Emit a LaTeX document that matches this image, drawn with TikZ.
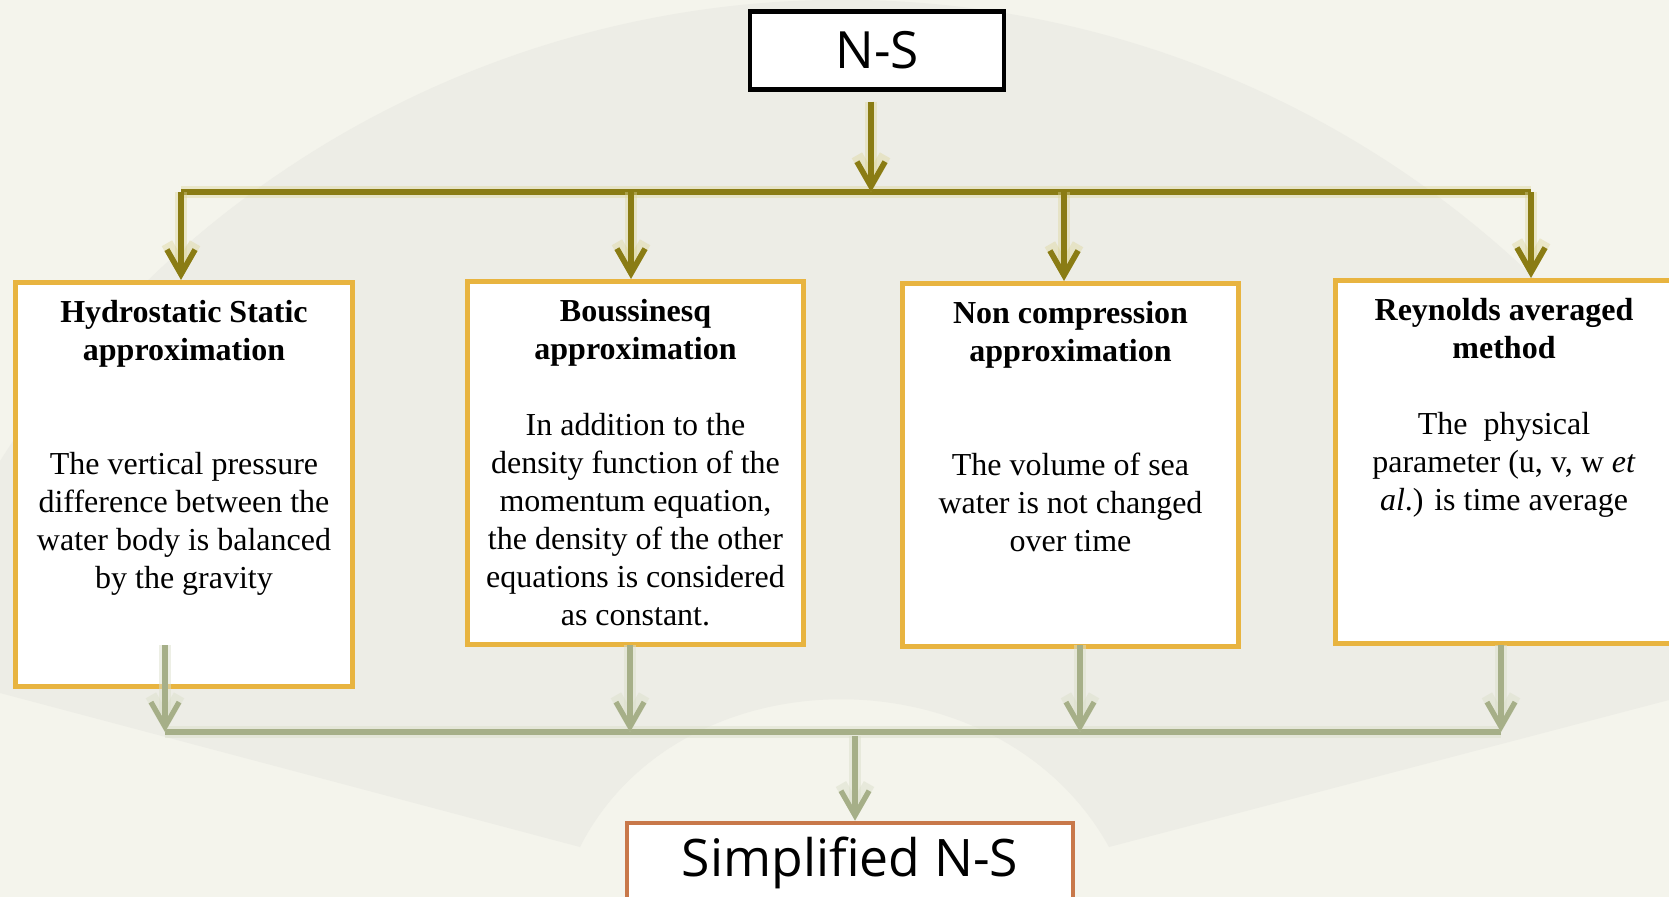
\documentclass[tikz,border=0pt]{standalone}
\usepackage{fontspec}
\setmainfont{Liberation Serif}
\newfontfamily\headfont{Open Sans}
\usetikzlibrary{arrows.meta,positioning}

\definecolor{paper}{RGB}{244,244,236}
\definecolor{fanshade}{RGB}{237,237,230}
\definecolor{olivearrow}{RGB}{138,124,20}
\definecolor{oliveglow}{RGB}{220,212,150}
\definecolor{sagearrow}{RGB}{166,175,136}
\definecolor{sageglow}{RGB}{220,224,204}
\definecolor{boxgold}{RGB}{232,180,64}
\definecolor{boxrust}{RGB}{200,120,74}

\begin{document}
\begin{tikzpicture}[x=0.01cm, y=-0.01cm,
    nsbox/.style={draw=black, line width=1.2pt, fill=white, minimum width=2.54cm, minimum height=0.78cm, font=\headfont\fontsize{14.6}{16}\selectfont},
    simbox/.style={draw=boxrust, line width=1.3pt, fill=white, minimum width=4.46cm, minimum height=0.8cm, font=\headfont\fontsize{14.7}{18}\selectfont},
    approx/.style={draw=boxgold, line width=1.4pt, fill=white, minimum width=3.36cm, minimum height=3.63cm, inner sep=0pt},
    approxtext/.style={anchor=north, align=center, inner sep=0pt, font=\fontsize{9.1}{10.8}\selectfont},
    oliveline/.style={draw=olivearrow, line width=1.6pt, preaction={draw=oliveglow, line width=3.4pt, opacity=0.4}},
    olivedown/.style={oliveline, -{Straight Barb[length=7pt,width=8pt]}},
    sageline/.style={draw=sagearrow, line width=1.5pt, preaction={draw=sageglow, line width=3.4pt, opacity=0.5}},
    sagedown/.style={sageline, -{Straight Barb[length=7pt,width=8pt]}}]

    % page and fan in the back
    \useasboundingbox (0,0) rectangle (1669,897);
    \fill[paper] (0,0) rectangle (1669,897);
    \fill[fanshade] (0,461) arc[start angle=212.6, end angle=325.8, radius=1000]
        -- (1669,700) -- (1109,847) .. controls (1000,650) and (680,650) .. (580,847) -- (0,693) -- cycle;

    % boxes
    \node[nsbox] (ns) at (877,50.5) {N-S};

    \node[approx, minimum height=4.04cm] (hs) at (184,484.5) {};
    \node[approx] (bs) at (635.5,463) {};
    \node[approx] (nc) at (1070.5,465) {};
    \node[approx] (ra) at (1504,462) {};

    \node[approxtext] (hstext) at ([yshift=-0.2cm]hs.north) {\textbf{Hydrostatic Static}\\\textbf{approximation}\\[21.6pt]
        The vertical pressure\\difference between the\\water body is balanced\\by the gravity};
    \node[approxtext] (bstext) at ([yshift=-0.2cm]bs.north) {\textbf{Boussinesq}\\\textbf{approximation}\\[10.8pt]
        In addition to the\\density function of the\\momentum equation,\\the density of the other\\equations is considered\\as constant.};
    \node[approxtext] (nctext) at ([yshift=-0.2cm]nc.north) {\textbf{Non compression}\\\textbf{approximation}\\[21.6pt]
        The volume of sea\\water is not changed\\over time};
    \node[approxtext] (ratext) at ([yshift=-0.2cm]ra.north) {\textbf{Reynolds averaged}\\\textbf{method}\\[10.8pt]
        The\ \ physical\\parameter (u, v, w \textit{et}\\\textit{al}.) is time average};

    \node[simbox] (sns) at (850,863) {Simplified N-S};

    % top split
    \coordinate (topl) at (181,192);
    \coordinate (topr) at (1531,192);
    \draw[oliveline] (topl) -- (topr);
    \draw[olivedown, shorten <=0.1cm] ([xshift=-0.06cm]ns.south) -- ([xshift=-0.06cm]ns.south |- topl);
    \draw[olivedown] ([xshift=-0.03cm]hs.north |- topl) -- ([xshift=-0.03cm]hs.north);
    \draw[olivedown] ([xshift=-0.045cm]bs.north |- topl) -- ([xshift=-0.045cm]bs.north);
    \draw[olivedown] ([xshift=-0.065cm]nc.north |- topl) -- ([xshift=-0.065cm]nc.north);
    \draw[olivedown] (topr) -- (topr |- ra.north);

    % bottom merge
    \coordinate (botrow) at (0,645);
    \coordinate (botl) at (165,732);
    \coordinate (botr) at (1501,732);
    \draw[sageline] (botl) -- (botr);
    \draw[sagedown] (botl |- botrow) -- (botl);
    \draw[sagedown] ([xshift=-0.055cm]bs.south |- botrow) -- ([xshift=-0.055cm]bs.south |- botl);
    \draw[sagedown] ([xshift=0.095cm]nc.south |- botrow) -- ([xshift=0.095cm]nc.south |- botl);
    \draw[sagedown] (botr |- botrow) -- (botr);
    \draw[sagedown, shorten <=0.04cm] ([xshift=0.05cm]sns.north |- botl) -- ([xshift=0.05cm]sns.north);

\end{tikzpicture}
\end{document}
